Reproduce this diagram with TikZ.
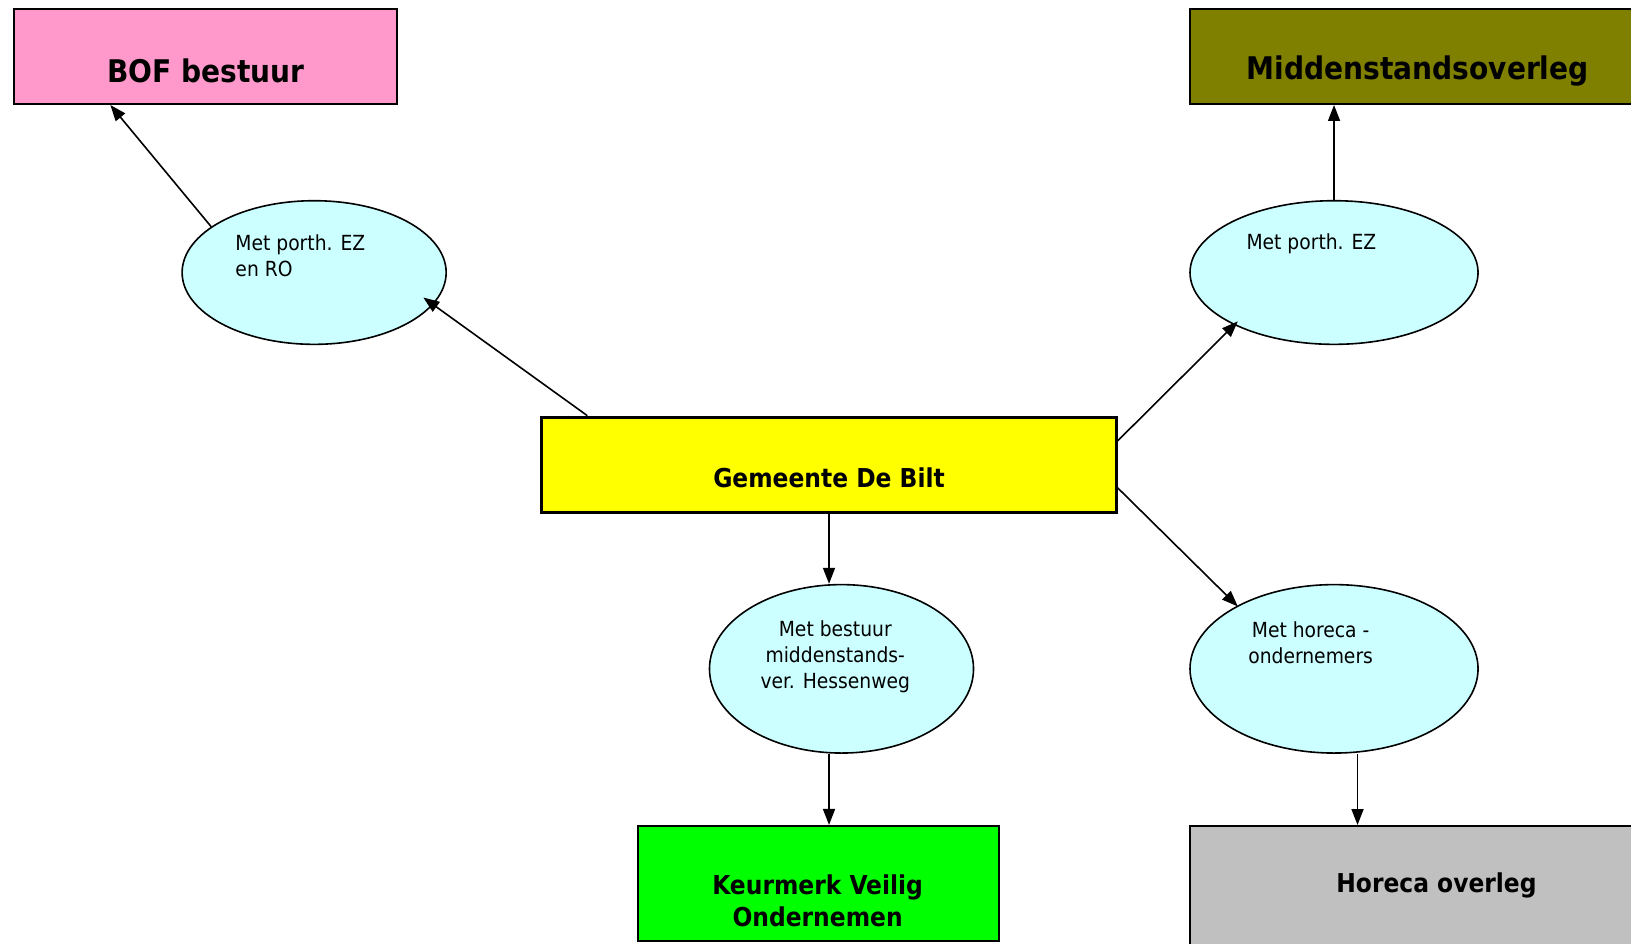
\documentclass[tikz,border=0pt]{standalone}
\usepackage{fontspec}
\setmainfont{DejaVu Sans Condensed}
\usetikzlibrary{shapes.geometric,arrows.meta}

\definecolor{bofpink}{HTML}{FF99CC}
\definecolor{overlegolive}{HTML}{808000}
\definecolor{gemyellow}{HTML}{FFFF00}
\definecolor{keurgreen}{HTML}{00FF00}
\definecolor{metcyan}{HTML}{CCFFFF}
\definecolor{horecagray}{HTML}{C0C0C0}

\begin{document}
\begin{tikzpicture}[x=0.52pt,y=-0.52pt,
  box/.style={draw, line width=1pt, rectangle, inner sep=0pt},
  talk/.style={draw, line width=0.8pt, ellipse, fill=metcyan, inner sep=0pt},
  title/.style={font=\fontsize{13}{16}\selectfont\bfseries, align=center, inner sep=0pt},
  bigtitle/.style={title, font=\fontsize{15.6}{18}\selectfont\bfseries},
  small/.style={font=\fontsize{10.4}{13}\selectfont, inner sep=0pt},
  link/.style={line width=0.8pt, -{Triangle[length=8pt,width=6pt]}}]

  \useasboundingbox (0,0) rectangle (1568,907.5);
  \clip (0,0) rectangle (1568,907.5);

  % Draw the boxes
  \node[box, fill=bofpink, minimum width=191.9pt, minimum height=47.3pt] (bof) at (197.5,54.5) {};
  \node[box, fill=overlegolive, minimum width=289pt, minimum height=47.3pt] (midden) at (1422,54.5) {};
  \node[box, fill=gemyellow, line width=1.5pt, minimum width=287pt, minimum height=47.8pt] (gem) at (797,447) {};
  \node[box, fill=keurgreen, minimum width=180.4pt, minimum height=57.7pt] (keur) at (786.5,849.5) {};
  \node[box, fill=horecagray, minimum width=289pt, minimum height=107pt] (hor) at (1422,897) {};

  \node[bigtitle] (boftxt) at (198,68) {BOF bestuur};
  \node[bigtitle] (middentxt) at (1363,68) {Middenstandsoverleg};
  \node[title] (gemtxt) at (797,459) {Gemeente De Bilt};
  \node[title] (keurtxt) at (786,866) {Keurmerk Veilig\\Ondernemen};
  \node[title] (hortxt) at (1381,851) {Horeca overleg};

  % Draw the ellipses
  \node[talk, minimum width=132pt, minimum height=71.8pt] (e1) at (302,262) {};
  \node[talk, minimum width=144pt, minimum height=71.8pt] (e2) at (1282.5,262) {};
  \node[talk, minimum width=132pt, minimum height=84.2pt] (e3) at (809,643) {};
  \node[talk, minimum width=144pt, minimum height=84.2pt] (e4) at (1282.5,643) {};

  \node[small, align=left, anchor=west] (e1txt) at (226,246) {Met porth. EZ\\en RO};
  \node[small, anchor=west] (e2txt) at (1198,234) {Met porth. EZ};
  \node[small, align=center] (e3txt) at (803,631) {Met bestuur\\middenstands-\\ver. Hessenweg};
  \node[small, align=center] (e4txt) at (1260,618) {Met horeca -\\ondernemers};

  % Draw the arrows
  \coordinate (hortop) at ([xshift=84.2pt]hor.north west);

  \draw[link] ([xshift=23.4pt]gem.north west) -- ([xshift=54.6pt,yshift=-12.5pt]e1.center);
  \draw[link] (e1.156) -- ([xshift=48.9pt]bof.south west);

  \draw[link] ([yshift=12pt]gem.east) -- ([xshift=-48.1pt,yshift=-24.4pt]e2.center);
  \draw[link] (e2.north) -- (e2.north |- midden.south);

  \draw[link] (gem.south) -- (gem.south |- e3.north);
  \draw[link] (gem.south |- e3.south) -- (gem.south |- keur.north);

  \draw[link] ([yshift=-11.4pt]gem.east) -- ([xshift=-48.1pt,yshift=31.2pt]e4.center);
  \draw[link] (e4.south -| hortop) -- (hortop);

\end{tikzpicture}
\end{document}
